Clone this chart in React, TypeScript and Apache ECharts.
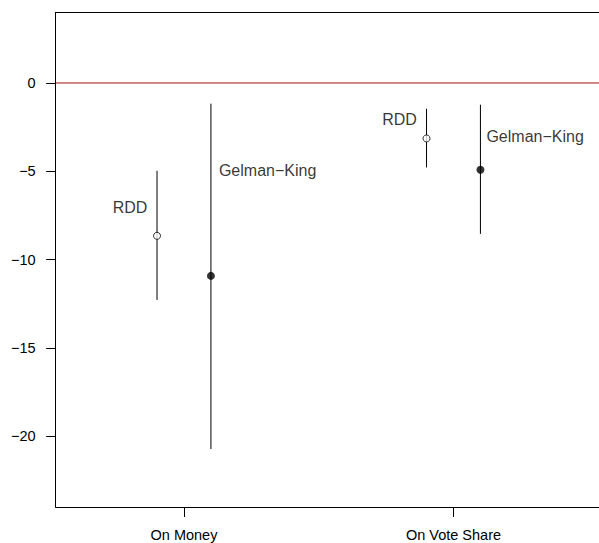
import React, { useEffect, useRef } from "react";
import * as echarts from "echarts";

const categories = ["On Money", "On Vote Share"];
const categoryPos = [1, 2];
const methods = ["RDD", "Gelman\u2212King"];
const rddX = [0.9, 1.9];
const rddEst = [-8.65, -3.14];
const rddLow = [-12.28, -4.78];
const rddHigh = [-4.97, -1.46];
const gkX = [1.1, 2.1];
const gkEst = [-10.92, -4.91];
const gkLow = [-20.72, -8.54];
const gkHigh = [-1.17, -1.23];
const yTicks = [-20, -15, -10, -5, 0];
const X_MIN = 0.524;
const X_MAX = 2.54;
const refLineY = 0;

const FONT = "'Liberation Sans', Arial, Helvetica, sans-serif";

export default function App() {
  const ref = useRef<HTMLDivElement>(null);
  useEffect(() => {
    if (!ref.current) return;
    const chart = echarts.init(ref.current, undefined, { renderer: "svg" });
    const bars = [
      ...rddX.map((x, i) => [x, rddLow[i], rddHigh[i]]),
      ...gkX.map((x, i) => [x, gkLow[i], gkHigh[i]]),
    ];
    const rddLabelOffsets = [[-27, -28.5], [-27, -18.7]];
    const gkLabelOffsets = [[8, -105], [6, -33]];
    const labelBase = {
      show: true,
      position: "inside",
      color: "#000",
      fontSize: 16,
      fontFamily: FONT,
    };
    chart.setOption({
      animation: false,
      grid: {
        left: 55.7,
        top: 12.3,
        bottom: 36,
        right: 0,
        show: false,
      },
      xAxis: [
        {
          type: "value",
          min: X_MIN,
          max: X_MAX,
          splitLine: { show: false },
          axisLine: { show: true, onZero: false, lineStyle: { color: "#000", width: 1 } },
          axisTick: {
            show: true,
            length: 10,
            customValues: categoryPos,
            lineStyle: { color: "#000" },
          },
          axisLabel: {
            customValues: categoryPos,
            formatter: (v: number) => categories[categoryPos.indexOf(v)] ?? "",
            color: "#000",
            fontSize: 14.5,
            fontFamily: FONT,
            margin: 20,
          },
        },
        {
          type: "value",
          position: "top",
          min: X_MIN,
          max: X_MAX,
          splitLine: { show: false },
          axisLine: { show: true, onZero: false, lineStyle: { color: "#000", width: 1 } },
          axisTick: { show: false },
          axisLabel: { show: false },
        },
      ],
      yAxis: {
        type: "value",
        min: -24,
        max: 4,
        splitLine: { show: false },
        axisLine: { show: true, onZero: false, lineStyle: { color: "#000", width: 1 } },
        axisTick: {
          show: true,
          length: 9.5,
          customValues: yTicks,
          lineStyle: { color: "#000" },
        },
        axisLabel: {
          customValues: yTicks,
          formatter: (v: number) => (v < 0 ? "\u2212" + Math.abs(v) : String(v)),
          color: "#000",
          fontSize: 14.5,
          fontFamily: FONT,
          margin: 20,
        },
      },
      series: [
        {
          type: "line",
          data: [[X_MIN, refLineY], [X_MAX, refLineY]],
          symbol: "none",
          lineStyle: { color: "#a80f0f", width: 1 },
          itemStyle: { color: "#a80f0f" },
          silent: true,
          z: 0,
        },
        {
          type: "custom",
          data: bars,
          renderItem: (params: any, api: any) => {
            const x = api.value(0);
            const p1 = api.coord([x, api.value(1)]);
            const p2 = api.coord([x, api.value(2)]);
            return {
              type: "line",
              shape: { x1: p1[0], y1: p1[1], x2: p2[0], y2: p2[1] },
              style: { stroke: "#000", lineWidth: 1 },
            };
          },
          z: 1,
        },
        {
          type: "scatter",
          name: methods[0],
          symbol: "circle",
          symbolSize: 7,
          itemStyle: { color: "#fff", borderColor: "#000", borderWidth: 1 },
          data: rddX.map((x, i) => ({
            value: [x, rddEst[i]],
            label: { ...labelBase, formatter: methods[0], align: "center", offset: rddLabelOffsets[i] },
          })),
          z: 3,
        },
        {
          type: "scatter",
          name: methods[1],
          symbol: "circle",
          symbolSize: 8,
          itemStyle: { color: "#000", borderWidth: 0 },
          data: gkX.map((x, i) => ({
            value: [x, gkEst[i]],
            label: { ...labelBase, formatter: methods[1], align: "left", offset: gkLabelOffsets[i] },
          })),
          z: 3,
        },
      ],
    });
    return () => chart.dispose();
  }, []);
  return <div ref={ref} style={{ width: 599, height: 543, position: "absolute", left: 0, top: 0 }} />;
}
